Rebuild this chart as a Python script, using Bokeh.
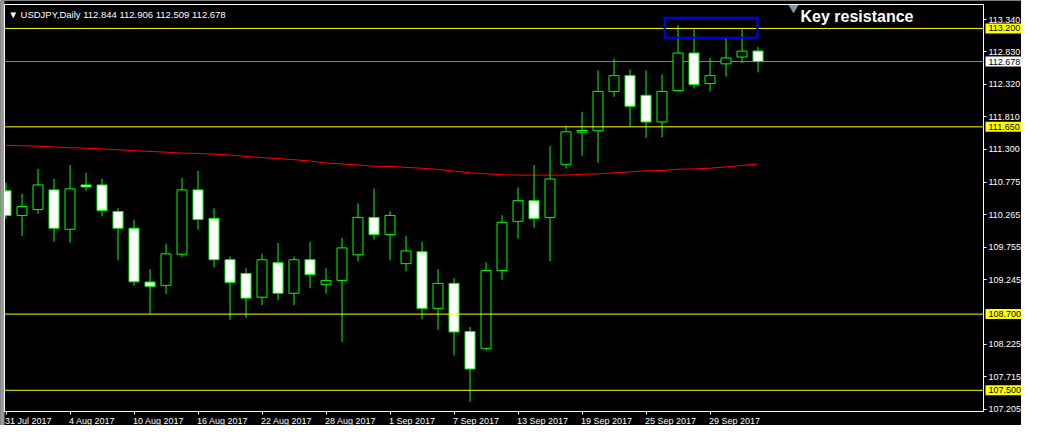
from bokeh.plotting import figure
from bokeh.models import (ColumnDataSource, Range1d, FixedTicker, NumeralTickFormatter,
                          Label, BoxAnnotation)
from bokeh.embed import file_html
from bokeh.resources import INLINE

# ---------------- data (USDJPY daily, 31 Jul 2017 - 4 Oct 2017) ----------------
symbol = "USDJPY"
timeframe = "Daily"

opens = [110.642, 110.254, 110.347, 110.657, 110.037, 110.735, 110.735, 110.316,
         110.053, 109.205, 109.153, 109.643, 110.657, 110.208, 109.557, 109.340,
         108.967, 109.510, 109.029, 109.557, 109.169, 109.231, 109.634, 110.223,
         109.953, 109.495, 109.681, 108.791, 109.184, 108.425, 108.161, 109.386,
         110.161, 110.487, 110.223, 111.060, 111.566, 111.588, 112.208, 112.456,
         112.146, 111.727, 112.223, 112.812, 112.332, 112.642, 112.750, 112.844]
highs = [110.771, 110.600, 110.988, 110.833, 111.050, 110.926, 110.833, 110.367,
         110.186, 109.406, 109.809, 110.848, 110.957, 110.367, 109.608, 109.422,
         109.654, 109.820, 109.608, 109.836, 109.422, 109.902, 110.445, 110.678,
         110.321, 109.933, 109.840, 109.406, 109.267, 108.496, 109.515, 110.259,
         110.693, 111.050, 111.344, 111.670, 111.887, 112.538, 112.724, 112.553,
         112.538, 112.476, 113.251, 113.189, 112.735, 113.050, 113.189, 112.906]
lows = [110.202, 109.929, 110.279, 109.840, 109.825, 110.642, 110.243, 109.550,
        109.147, 108.704, 109.019, 109.597, 110.031, 109.442, 108.611, 108.642,
        108.843, 108.921, 108.843, 109.107, 109.023, 108.264, 109.530, 109.876,
        109.550, 109.375, 108.620, 108.450, 108.047, 107.318, 108.124, 109.240,
        109.891, 110.062, 109.535, 110.992, 111.194, 111.085, 112.124, 111.659,
        111.473, 111.488, 112.200, 112.254, 112.208, 112.440, 112.657, 112.509]
closes = [110.254, 110.394, 110.735, 110.053, 110.673, 110.704, 110.332, 110.053,
          109.209, 109.138, 109.650, 110.657, 110.192, 109.557, 109.200, 108.952,
          109.557, 109.029, 109.557, 109.324, 109.231, 109.743, 110.223, 109.953,
          110.254, 109.696, 108.791, 109.184, 108.419, 107.836, 109.386, 110.146,
          110.487, 110.208, 110.828, 111.572, 111.592, 112.208, 112.456, 111.975,
          111.727, 112.208, 112.812, 112.316, 112.456, 112.735, 112.843, 112.678]
moving_average = [111.360, 111.352, 111.344, 111.333, 111.321, 111.313, 111.302, 111.290,
                  111.274, 111.262, 111.251, 111.236, 111.231, 111.220, 111.205, 111.184,
                  111.166, 111.150, 111.132, 111.112, 111.081, 111.065, 111.050, 111.029,
                  111.026, 111.011, 110.998, 110.980, 110.952, 110.926, 110.910, 110.895,
                  110.890, 110.890, 110.890, 110.890, 110.902, 110.910, 110.926, 110.941,
                  110.957, 110.961, 110.983, 110.988, 110.998, 111.019, 111.042, 111.065]

date_tick_bars = [0, 4, 8, 12, 16, 20, 24, 28, 32, 36, 40, 44]
date_tick_labels = ["31 Jul 2017", "4 Aug 2017", "10 Aug 2017", "16 Aug 2017",
                    "22 Aug 2017", "28 Aug 2017", "1 Sep 2017", "7 Sep 2017",
                    "13 Sep 2017", "19 Sep 2017", "25 Sep 2017", "29 Sep 2017"]
price_ticks = [113.340, 112.830, 112.320, 111.810, 111.300, 110.775, 110.265,
               109.755, 109.245, 108.225, 107.715, 107.205]
level_prices = [113.200, 111.650, 108.700, 107.500]
bid_price = 112.678
zone_bars = [41.16, 46.97]
zone_prices = [113.055, 113.368]
zone_text = "Key resistance"

# ---------------- layout ----------------
W, H = 1021, 425
PX_PER_BAR = 16.0
BAR0_PX = 5.5                      # pixel column of the first bar
IN_LEFT, IN_RIGHT, IN_TOP, IN_BOTTOM = 4, 983, 4, 411   # inner chart window (px)
Y_IN_TOP, Y_IN_BOTTOM = 113.577, 107.166
PX_PER_YEN = (IN_BOTTOM - IN_TOP) / (Y_IN_TOP - Y_IN_BOTTOM)

X_FULL0 = -BAR0_PX / PX_PER_BAR
X_FULL1 = X_FULL0 + W / PX_PER_BAR
X_IN_LEFT = X_FULL0 + IN_LEFT / PX_PER_BAR
X_IN_RIGHT = X_FULL0 + IN_RIGHT / PX_PER_BAR
Y_FULL1 = Y_IN_TOP + IN_TOP / PX_PER_YEN
Y_FULL0 = Y_IN_BOTTOM - (H - IN_BOTTOM) / PX_PER_YEN


def dx(px):
    return px / PX_PER_BAR


def dy(px):
    return px / PX_PER_YEN


GREEN = "#00ff00"
FONT = "Liberation Sans"

bars = list(range(len(opens)))
src = ColumnDataSource(dict(
    x=bars, o=opens, h=highs, l=lows, c=closes,
    top=[max(o, c) for o, c in zip(opens, closes)],
    bottom=[min(o, c) for o, c in zip(opens, closes)],
    fill=["black" if c >= o else "white" for o, c in zip(opens, closes)],
))

p = figure(width=W, height=H, x_range=Range1d(X_FULL0, X_FULL1),
           y_range=Range1d(Y_FULL0, Y_FULL1),
           output_backend="svg", toolbar_location=None, y_axis_location="right",
           title=None, min_border=0, min_border_left=0, min_border_right=0,
           min_border_top=0, min_border_bottom=0,
           background_fill_color="black", border_fill_color="black",
           outline_line_color=None)
p.grid.visible = False

# bid line (under the candles)
p.segment(x0=X_IN_LEFT, x1=X_IN_RIGHT, y0=bid_price, y1=bid_price,
          line_color="#778899", line_width=1)

p.line(bars, moving_average, color="#ff0000", line_width=1)
p.segment(x0="x", y0="h", x1="x", y1="l", source=src, color=GREEN, line_width=1)
p.vbar(x="x", width=dx(10), top="top", bottom="bottom", source=src,
       fill_color="fill", line_color=GREEN, line_width=1)

# horizontal support / resistance levels
lvl_src = ColumnDataSource(dict(y=level_prices))
p.segment(x0=X_IN_LEFT, x1=X_IN_RIGHT, y0="y", y1="y", source=lvl_src,
          line_color="#ffff00", line_width=1)

# highlighted price boxes on the price scale
p.quad(left=X_IN_RIGHT + dx(2), right=X_FULL1, bottom=[v - dy(5) for v in level_prices],
       top=[v + dy(5) for v in level_prices], fill_color="#ffff00", line_color=None)
p.quad(left=X_IN_RIGHT + dx(2), right=X_FULL1, bottom=bid_price - dy(5),
       top=bid_price + dy(5), fill_color="white", line_color=None)

p.add_layout(BoxAnnotation(left=zone_bars[0], right=zone_bars[1],
                           bottom=zone_prices[0], top=zone_prices[1],
                           fill_color=None, fill_alpha=0, line_color="#0000ff",
                           line_alpha=1.0, line_width=2))

# window edge and chart frame
p.add_layout(BoxAnnotation(left=X_FULL0, right=X_IN_LEFT, bottom=Y_FULL0, top=Y_FULL1,
                           fill_color="#9a9a9a", fill_alpha=1.0, line_color=None))
p.add_layout(BoxAnnotation(left=X_IN_LEFT, right=X_IN_RIGHT, bottom=Y_IN_BOTTOM,
                           top=Y_IN_TOP, fill_color=None, fill_alpha=0,
                           line_color="white", line_alpha=1.0, line_width=1))

# axes (pinned to the chart frame edges)
xa = p.xaxis[0]
xa.fixed_location = Y_IN_BOTTOM
xa.bounds = (X_IN_LEFT, X_IN_RIGHT)
xa.ticker = FixedTicker(ticks=date_tick_bars)
xa.major_tick_out = 3
xa.major_tick_in = 0
xa.minor_tick_line_color = None
xa.axis_line_color = "white"
xa.major_tick_line_color = "white"
xa.major_label_text_color = None
xa.major_label_text_font_size = "8px"

ya = p.yaxis[0]
ya.fixed_location = X_IN_RIGHT
ya.bounds = (Y_IN_BOTTOM, Y_IN_TOP)
ya.ticker = FixedTicker(ticks=price_ticks)
ya.formatter = NumeralTickFormatter(format="0.000")
ya.major_tick_out = 3
ya.major_tick_in = 0
ya.minor_tick_line_color = None
ya.axis_line_color = "white"
ya.major_tick_line_color = "white"
ya.major_label_text_color = "white"
ya.major_label_text_font = FONT
ya.major_label_text_font_size = "9px"
ya.major_label_standoff = 2

# date labels, left-aligned at their ticks (MetaTrader style)
for bar, txt in zip(date_tick_bars, date_tick_labels):
    p.add_layout(Label(x=bar, y=Y_IN_BOTTOM - dy(4), text=txt, text_color="white",
                       text_font=FONT, text_font_size="9px", text_align="left",
                       text_baseline="top", x_offset=-1))

# highlighted price texts
for lvl in level_prices:
    p.add_layout(Label(x=X_IN_RIGHT + dx(5), y=lvl, text=f"{lvl:.3f}", text_color="black",
                       text_font=FONT, text_font_size="9px", text_baseline="middle",
                       text_align="left"))
p.add_layout(Label(x=X_IN_RIGHT + dx(5), y=bid_price, text=f"{bid_price:.3f}",
                   text_color="black", text_font=FONT, text_font_size="9px",
                   text_baseline="middle", text_align="left"))

# header
header = "\u25bc {},{}  {:.3f} {:.3f} {:.3f} {:.3f}".format(
    symbol, timeframe, opens[-1], highs[-1], lows[-1], closes[-1])
p.add_layout(Label(x=X_IN_LEFT + dx(4), y=Y_IN_TOP - dy(4), text=header,
                   text_color="white", text_font=FONT, text_font_size="9.5px",
                   text_baseline="top"))

# text object
p.scatter([zone_bars[1] + dx(36)], [Y_IN_TOP - dy(3)], marker="inverted_triangle",
          size=9, color="#8193a6")
p.add_layout(Label(x=zone_bars[1] + dx(43), y=Y_IN_TOP - dy(3), text=zone_text,
                   text_color="white", text_font=FONT, text_font_size="16px",
                   text_font_style="bold", text_baseline="top"))

open("out.html", "w").write(file_html(p, INLINE))
